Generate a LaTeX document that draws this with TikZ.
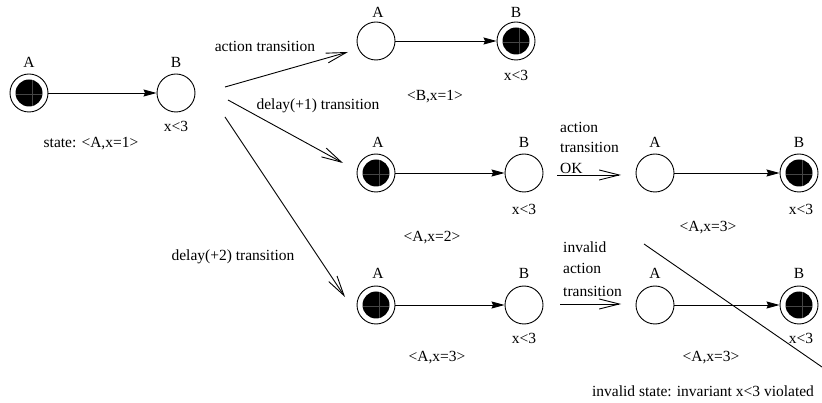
\documentclass[tikz,border=0pt]{standalone}
\usepackage{fontspec}
\setmainfont{Liberation Serif}
\usetikzlibrary{arrows.meta}
\begin{document}
\begin{tikzpicture}[x=1pt,y=-1pt,
  every node/.style={font=\fontsize{15.5}{18}\selectfont},
  plainstate/.style={circle,draw,line width=0.9pt,minimum size=38pt,inner sep=0pt},
  dstate/.style={plainstate,path picture={
      \fill[black] (path picture bounding box.center) circle[radius=13.5pt];
      \draw[gray!55!black,line width=0.25pt] ([xshift=-13pt,yshift=-1pt]path picture bounding box.center) -- ([xshift=13pt,yshift=-1pt]path picture bounding box.center);
      \draw[gray!55!black,line width=0.25pt] ([xshift=3pt,yshift=-13pt]path picture bounding box.center) -- ([xshift=3pt,yshift=13pt]path picture bounding box.center);}},
  lbl/.style={inner sep=0pt},
  autoedge/.style={line width=0.9pt,-{Stealth[length=13pt,width=7pt,inset=1.5pt]}},
  transedge/.style={line width=0.9pt,-{Straight Barb[length=20pt,width=10pt,line width=0.9pt]}},
  txt/.style={inner sep=0pt,anchor=west}]
\useasboundingbox (0,0) rectangle (822,403);
% initial
\node[dstate] (A1) at (29,93) {};
\node[plainstate] (B1) at (176,93) {};
\node[lbl] (lA1) at (29,62) {A};
\node[lbl] (lB1) at (176,62) {B};
\node[lbl] (iB1) at (176,126) {x<3};
\node[lbl] (s1) at (91,144) {state: <A,x=1>};
\draw[autoedge] (A1) -- (B1);
% top row
\node[plainstate] (A2) at (376,41) {};
\node[dstate] (B2) at (516,41) {};
\node[lbl] (lA2) at (378,12) {A};
\node[lbl] (lB2) at (516,12) {B};
\node[lbl] (iB2) at (516,75) {x<3};
\node[lbl] (s2) at (435,97) {<B,x=1>};
\draw[autoedge] (A2) -- (B2);
% middle row
\node[dstate] (A3) at (376,173) {};
\node[plainstate] (B3) at (524,173) {};
\node[lbl] (lA3) at (378,142) {A};
\node[lbl] (lB3) at (524,142) {B};
\node[lbl] (iB3) at (524,209) {x<3};
\node[lbl] (s3) at (432,238) {<A,x=2>};
\draw[autoedge] (A3) -- (B3);
\node[plainstate] (A4) at (655,173) {};
\node[dstate] (B4) at (799,173) {};
\node[lbl] (lA4) at (655,142) {A};
\node[lbl] (lB4) at (799,142) {B};
\node[lbl] (iB4) at (801,209) {x<3};
\node[lbl] (s4) at (708,228) {<A,x=3>};
\draw[autoedge] (A4) -- (B4);
% bottom row
\node[dstate] (A5) at (376,305) {};
\node[plainstate] (B5) at (524,305) {};
\node[lbl] (lA5) at (378,273) {A};
\node[lbl] (lB5) at (524,273) {B};
\node[lbl] (iB5) at (524,338) {x<3};
\node[lbl] (s5) at (437,358) {<A,x=3>};
\draw[autoedge] (A5) -- (B5);
\node[plainstate] (A6) at (655,305) {};
\node[dstate] (B6) at (799,305) {};
\node[lbl] (lA6) at (655,273) {A};
\node[lbl] (lB6) at (799,273) {B};
\node[lbl] (iB6) at (801,338) {x<3};
\node[lbl] (s6) at (711,358) {<A,x=3>};
\draw[autoedge] (A6) -- (B6);
\node[lbl] (inv) at (703,391) {invalid state: invariant x<3 violated};
% cross-out line
\coordinate (c1) at (644,244);
\coordinate (c2) at (822,367);
\draw[line width=0.9pt] (c1) -- (c2);
% transitions
\coordinate (t1s) at (225,87);  \coordinate (t1e) at (348,52);
\coordinate (t2s) at (228,100); \coordinate (t2e) at (343,163);
\coordinate (t3s) at (225,117); \coordinate (t3e) at (345,297);
\coordinate (t4s) at (557,175); \coordinate (t4e) at (621,175);
\coordinate (t5s) at (560,304); \coordinate (t5e) at (621,304);
\draw[transedge] (t1s) -- (t1e);
\draw[transedge] (t2s) -- (t2e);
\draw[transedge] (t3s) -- (t3e);
\draw[transedge] (t4s) -- (t4e);
\draw[transedge] (t5s) -- (t5e);
\node[lbl] (tl1) at (265,46) {action transition};
\node[lbl] (tl2) at (318,106) {delay(+1) transition};
\node[lbl] (tl3) at (233,257) {delay(+2) transition};
\node[txt] (tl4a) at (560,127) {action};
\node[txt] (tl4b) at (560,147) {transition};
\node[txt] (tl4c) at (560,168) {OK};
\node[txt] (tl5a) at (563,247) {invalid};
\node[txt] (tl5b) at (563,268) {action};
\node[txt] (tl5c) at (563,291) {transition};
\end{tikzpicture}
\end{document}
